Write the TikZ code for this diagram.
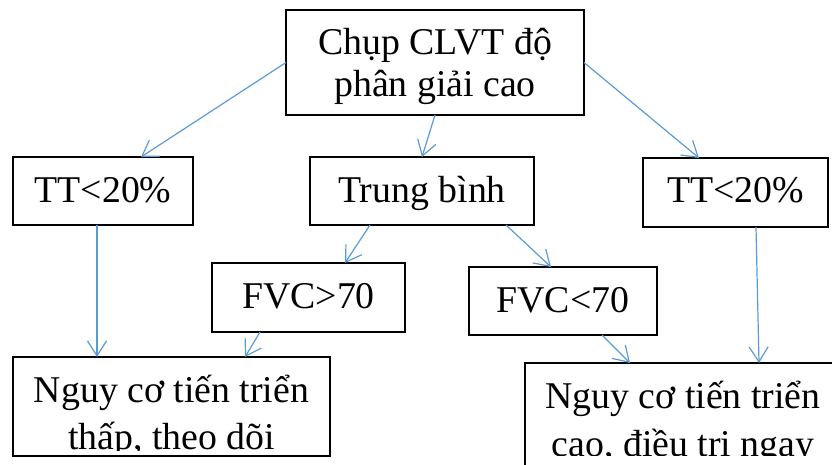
\documentclass[tikz,border=0pt]{standalone}
\usepackage{fontspec}
\setmainfont{Liberation Serif}
\usetikzlibrary{arrows.meta}
\definecolor{arrowblue}{HTML}{5B9BD5}
\tikzset{
  box/.style={draw=black, line width=2.2pt, rectangle, inner sep=0pt, outer sep=0pt},
  lbl/.style={anchor=base, inner sep=0pt, font=\fontsize{37.8}{42}\selectfont},
  conn/.style={draw=arrowblue, line width=1.2pt, -{Straight Barb[length=15pt,width=19pt,line width=1.2pt]}}
}
\begin{document}
\begin{tikzpicture}[x=1pt,y=-1pt]
\useasboundingbox (0,0) rectangle (832,465);
\clip (0,0) rectangle (832,465);
% boxes
\node[box, minimum width=298pt, minimum height=105pt] (top) at (435,62.5) {};
\node[box, minimum width=180pt, minimum height=68pt] (tl) at (103,191) {};
\node[box, minimum width=224pt, minimum height=68pt] (tb) at (422,191) {};
\node[box, minimum width=185pt, minimum height=69pt] (tr) at (735.5,192.5) {};
\node[box, minimum width=193pt, minimum height=69pt] (f1) at (308.5,297.5) {};
\node[box, minimum width=188pt, minimum height=68pt] (f2) at (563,301) {};
\node[box, minimum width=317pt, minimum height=99pt] (bl) at (171.5,406.5) {};
\node[box, minimum width=340pt, minimum height=130pt] (br) at (695,428) {};
% texts
\node[lbl] (top1) at (435,55) {Chụp CLVT độ};
\node[lbl] (top2) at (435,97) {phân giải cao};
\node[lbl] (tlt) at (103,202) {TT<20\%};
\node[lbl] (tbt) at (422,202) {Trung bình};
\node[lbl] (trt) at (735.5,203) {TT<20\%};
\node[lbl] (f1t) at (308.5,308) {FVC>70};
\node[lbl] (f2t) at (563,312) {FVC<70};
\node[lbl] (bl1) at (171.5,402) {Nguy cơ tiến triển};
\begin{scope}
\clip (13,360) rectangle (330,450);
\node[lbl] (bl2) at (171.5,449) {thấp, theo dõi};
\end{scope}
\node[lbl] (br1) at (683,408) {Nguy cơ tiến triển};
\begin{scope}
\clip (525,365) rectangle (832,455);
\node[lbl] (br2) at (683,456) {cao, điều trị ngay};
\end{scope}
% connectors
\draw[conn] (top.west) -- ([xshift=38pt]tl.north);
\draw[conn] (top.south) -- (tb.north);
\draw[conn] (top.east) -- ([xshift=-36.5pt]tr.north);
\draw[conn] ([xshift=-6pt]tl.south) -- ([xshift=-74.5pt]bl.north);
\draw[conn] ([xshift=-52pt]tb.south) -- ([xshift=36.5pt]f1.north);
\draw[conn] ([xshift=84pt]tb.south) -- ([xshift=-12pt]f2.north);
\draw[conn] ([xshift=-48.5pt]f1.south) -- ([xshift=73.5pt]bl.north);
\draw[conn] ([xshift=39pt]f2.south) -- ([xshift=-65pt]br.north);
\draw[conn] ([xshift=20.5pt]tr.south) -- ([xshift=64pt]br.north);
\end{tikzpicture}
\end{document}
